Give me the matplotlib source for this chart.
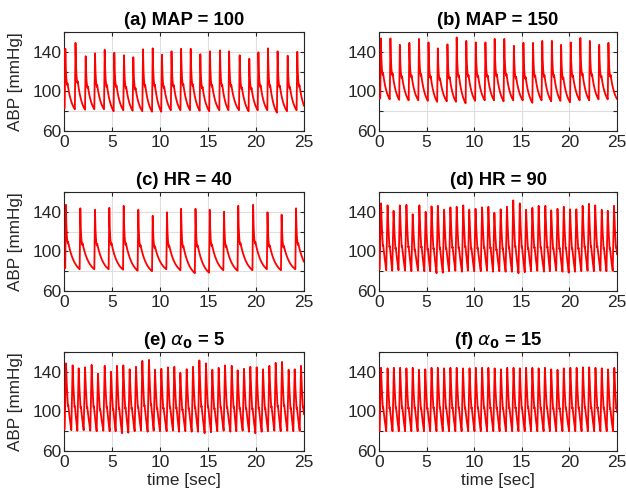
import numpy as np
import matplotlib
matplotlib.use("Agg")
import matplotlib.pyplot as plt

plt.rcParams['font.family'] = ['Liberation Sans', 'DejaVu Sans']
plt.rcParams['mathtext.fontset'] = 'dejavusans'

# ---------------- data ----------------
titles = ["(a) MAP = 100", "(b) MAP = 150", "(c) HR = 40", "(d) HR = 90",
          r"(e) $\alpha_{\mathbf{0}}$ = 5", r"(f) $\alpha_{\mathbf{0}}$ = 15"]

a_peak_t = [0.14, 1.2, 2.26, 3.23, 4.24, 5.24, 6.25, 7.22, 8.23, 9.24, 10.2, 11.2, 12.2,
            13.2, 14.2, 15.2, 16.25, 17.2, 18.3, 19.3, 20.25, 21.25, 22.25, 23.3, 24.3]
a_peak = [143, 149, 135.5, 138.5, 142, 139, 136.5, 134.5, 142.5, 143.5, 137, 140.5, 143,
          143, 137.5, 140.5, 141.5, 140.5, 136.5, 133, 139.5, 143.5, 140.5, 136, 140]
a_trough = [83, 82, 81.5, 82, 82, 80, 81, 80.5, 80, 79.5, 79.5, 81, 81, 81, 80.5, 80,
            81, 81, 81, 80, 81, 81, 78.5, 80, 81, 81]

b_peak_t = [0.2, 1.2, 2.19, 3.19, 4.2, 5.2, 6.18, 7.19, 8.16, 9.17, 10.17, 11.18, 12.15,
            13.16, 14.17, 15.17, 16.18, 17.15, 18.16, 19.13, 20.14, 21.15, 22.15, 23.13, 24.1]
b_peak = [153.5, 153.5, 147, 149, 153, 149.5, 143.5, 147.5, 154.5, 151, 149.5, 149.5, 153,
          153, 146, 149, 149, 151, 151, 147, 149.5, 154, 151, 147, 149]
b_trough = [93, 92, 91.5, 91, 91, 90.5, 89.5, 90, 89.5, 88, 90.5, 91, 91, 90, 91, 91,
            88.5, 91, 90, 90.5, 89, 91, 91, 92, 92, 92]

c_peak_t = [0.2, 1.7, 3.23, 4.72, 6.22, 7.74, 9.24, 10.73, 12.2, 13.7, 15.18, 16.67,
            18.15, 19.7, 21.2, 22.67, 24.17]
c_peak = [147, 143.5, 142, 144, 146, 142, 136, 139.5, 143, 143, 142, 140, 146, 147,
          139.5, 137, 143.5]
c_trough = [83, 82, 82, 82, 81.5, 80.5, 80, 82, 81, 78, 78.5, 81, 80.5, 81, 82, 81, 82, 82]

d_peak_t = [0.21, 0.90, 1.53, 2.19, 2.88, 3.54, 4.24, 4.90, 5.52, 6.18, 6.84, 7.50, 8.16,
            8.85, 9.48, 10.14, 10.83, 11.49, 12.12, 12.78, 13.44, 14.10, 14.79, 15.45,
            16.11, 16.77, 17.47, 18.09, 18.75, 19.41, 20.07, 20.73, 21.39, 22.05, 22.71,
            23.40, 24.03, 24.69]
d_peak = [148.5, 146.5, 141, 146.5, 147, 137.5, 146.5, 140, 145.5, 146, 142, 144.5, 145,
          146.5, 142, 143, 144.5, 145, 139, 142.5, 145, 151.5, 148.5, 142, 144, 146, 146,
          141.5, 143, 145, 142.5, 142.5, 146, 148, 146.5, 142, 141, 146]
d_trough = [82, 81, 80.5, 81, 80.5, 80, 80.5, 80, 80, 78, 78.5, 80, 80.5, 79.5, 80.5, 80,
            80, 80.5, 79.5, 80, 79.5, 79.5, 78, 79, 80, 80.5, 79.5, 80, 80.5, 79.5, 78.5,
            79.5, 80, 80.5, 80, 80.5, 80, 80.5, 80]

e_peak_t = [0.21, 0.90, 1.53, 2.19, 2.88, 3.54, 4.24, 4.90, 5.52, 6.18, 6.84, 7.50, 8.16,
            8.85, 9.48, 10.14, 10.83, 11.49, 12.12, 12.78, 13.44, 14.10, 14.79, 15.45,
            16.11, 16.77, 17.47, 18.09, 18.75, 19.41, 20.07, 20.73, 21.39, 22.05, 22.71,
            23.40, 24.03, 24.69]
e_peak = [148.5, 146.5, 143.5, 144.5, 147, 138, 146, 140, 146, 146.5, 142.5, 145, 151,
          152, 142, 143, 144.5, 145, 139, 142.5, 145, 151.5, 148.5, 142, 144, 146.5, 146,
          141.5, 143, 145, 144.5, 142.5, 146, 149, 150, 142, 142.5, 146]
e_trough = [82, 81, 80.5, 81, 80.5, 80, 80.5, 80, 80, 78, 78.5, 80, 80.5, 79.5, 80.5, 80,
            80, 80.5, 79.5, 80, 79.5, 79.5, 78, 79, 80, 80.5, 79.5, 80, 80.5, 79.5, 78,
            79.5, 80, 80.5, 80, 80.5, 80, 80.5, 80]

f_peak_t = [0.21, 0.90, 1.56, 2.22, 2.88, 3.54, 4.20, 4.86, 5.52, 6.18, 6.84, 7.50, 8.16,
            8.82, 9.51, 10.17, 10.83, 11.49, 12.15, 12.81, 13.47, 14.13, 14.79, 15.45,
            16.11, 16.77, 17.43, 18.09, 18.75, 19.41, 20.10, 20.76, 21.42, 22.08, 22.74,
            23.40, 24.06, 24.72]
f_peak = [144, 143.5, 144, 144, 143.5, 144, 142, 142.5, 144, 144, 143.5, 144, 144, 143.5,
          143.5, 144, 144, 144, 143.5, 142.5, 144, 144, 143.5, 144, 144, 143.5, 144, 142.5,
          142, 143.5, 144, 144, 144.5, 144.5, 144, 143.5, 142.5, 144]
f_trough = [80, 80, 80, 80, 80, 80, 80, 80, 80, 80, 80, 80, 80, 80, 80, 80, 80, 80, 80, 80,
            80, 80, 80, 80, 80, 80, 80, 80, 80, 80, 80, 80, 80, 80, 80, 80, 80, 80, 80]

x_ticks = [0, 5, 10, 15, 20, 25]
y_ticks = [60, 80, 100, 120, 140, 160]
y_ticklabels = ["60", "", "100", "", "140", ""]

# (peak times, peak values, troughs) per panel
panels = [(a_peak_t, a_peak, a_trough), (b_peak_t, b_peak, b_trough),
          (c_peak_t, c_peak, c_trough), (d_peak_t, d_peak, d_trough),
          (e_peak_t, e_peak, e_trough), (f_peak_t, f_peak, f_trough)]
# pulse-shape styling: notch fraction, upstroke time, first decay tau, notch bump,
# late-decay time constant relative to the beat period
shapes = [(0.40, 0.07, 0.07, 1.6, 0.45), (0.40, 0.07, 0.07, 1.8, 0.45),
          (0.40, 0.07, 0.07, 1.6, 0.45), (0.36, 0.14, 0.30, 1.0, 1.5),
          (0.36, 0.14, 0.30, 1.0, 1.5), (0.36, 0.14, 0.30, 1.0, 1.5)]


def abp_trace(t, peak_t, peak_v, trough_v, notch_frac, up, tau1, bump, tau2_rel,
              t_notch=0.2):
    """Pulse-by-pulse pressure trace through the read peak / trough values."""
    y = np.full(t.shape, float(trough_v[0]))
    n = len(peak_t)
    mean_p = float(np.mean(np.diff(peak_t)))
    ramp = 0.03
    for k in range(n):
        tp, P = peak_t[k], peak_v[k]
        D0, D1 = trough_v[k], trough_v[k + 1]
        tn = peak_t[k + 1] if k + 1 < n else tp + mean_p
        ts, te = tp - up, tn - up
        N = D1 + notch_frac * (P - D1)
        m = (t >= ts) & (t < tp)
        y[m] = D0 + (P - D0) * (t[m] - ts) / up
        m = (t >= tp) & (t < tp + t_notch)
        s = t[m] - tp
        e1 = np.exp(-t_notch / tau1)
        y[m] = N + (P - N) * (np.exp(-s / tau1) - e1) / (1 - e1)
        m = (t >= tp + t_notch) & (t < tp + t_notch + ramp)
        y[m] = N + bump * (t[m] - tp - t_notch) / ramp
        t2 = tp + t_notch + ramp
        L = te - t2
        tau2 = tau2_rel * (tn - tp)
        m = (t >= t2) & (t < te)
        s = t[m] - t2
        e2 = np.exp(-L / tau2)
        y[m] = D1 + (N + bump - D1) * (np.exp(-s / tau2) - e2) / (1 - e2)
    return y


t = np.arange(0, 25.0001, 0.005)

fig = plt.figure(figsize=(6.26, 4.98), dpi=100)
W, H = 626.0, 498.0
lefts = [64, 379]
widths = [240, 238]
tops = [32, 192, 352]
ax_h = 99

txt_col = '#262626'
for i, ((pt, pv, tv), shp) in enumerate(zip(panels, shapes)):
    r, c = divmod(i, 2)
    ax = fig.add_axes([lefts[c] / W, 1 - (tops[r] + ax_h) / H, widths[c] / W, ax_h / H])
    y = abp_trace(t, pt, pv, tv, *shp)
    ax.plot(t, y, color='#ff0000', lw=1.3, zorder=3)
    ax.set_xlim(0, 25)
    ax.set_ylim(60, 160)
    ax.set_xticks(x_ticks)
    ax.set_yticks(y_ticks)
    ax.set_yticklabels(y_ticklabels)
    ax.grid(True, color='#dedede', lw=0.8)
    ax.set_axisbelow(True)
    ax.tick_params(direction='in', top=True, right=True, length=3, width=0.8,
                   colors=txt_col, labelsize=12.5)
    ax.tick_params(axis='y', pad=2)
    ax.tick_params(axis='x', pad=3)
    for sp in ax.spines.values():
        sp.set_color(txt_col)
        sp.set_linewidth(0.8)
    ax.set_title(titles[i], fontsize=13.3, fontweight='bold', color='black', pad=5)
    if c == 0:
        ax.set_ylabel('ABP [mmHg]', fontsize=12.3, color=txt_col)
        ax.yaxis.set_label_coords(-0.17, 0.5)
    if r == 2:
        ax.set_xlabel('time [sec]', fontsize=12.3, color=txt_col, labelpad=2)

fig.savefig('out.png', dpi=100)
